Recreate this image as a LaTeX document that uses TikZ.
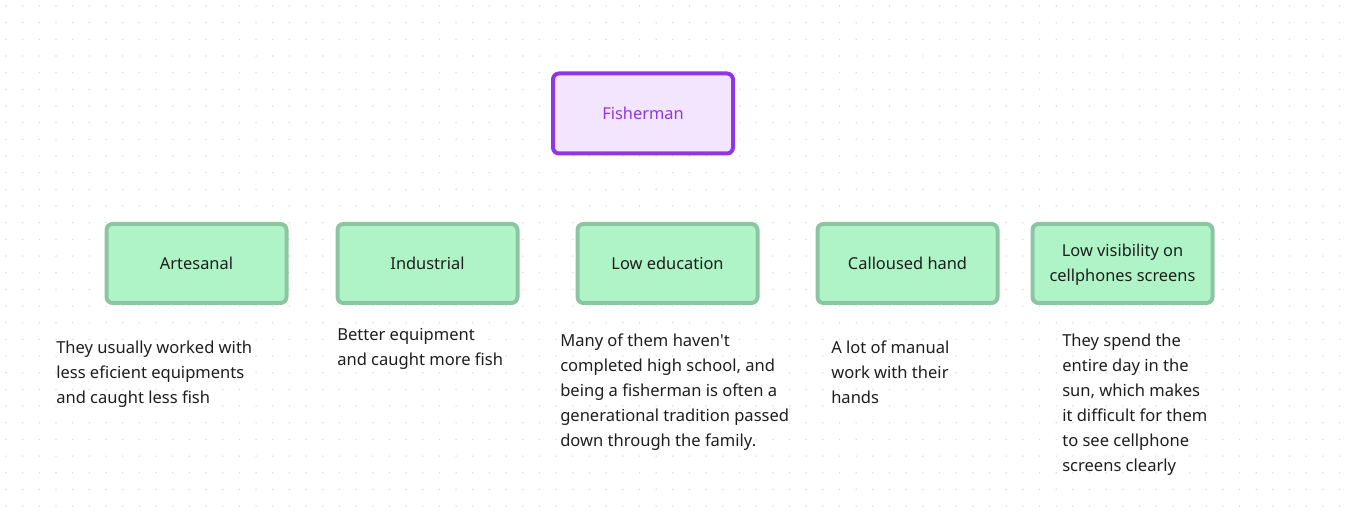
\documentclass[tikz,border=0pt]{standalone}
\usepackage{fontspec}
\setmainfont{Noto Sans}[Ligatures=TeXOff]
\definecolor{dotc}{HTML}{DDDDDD}
\definecolor{purpb}{HTML}{9036E8}
\definecolor{purpf}{HTML}{F3E5FE}
\definecolor{greenb}{HTML}{8CC6A0}
\definecolor{greenf}{HTML}{AFF4C7}
\definecolor{inkc}{HTML}{1E1E1E}
\tikzset{
  topbox/.style={draw=purpb, fill=purpf, line width=3pt, rounded corners=4.5pt,
    minimum width=180*0.75pt, minimum height=80*0.75pt, text=purpb, font=\fontsize{12.3}{15}\selectfont, inner sep=0pt},
  greenbox/.style={draw=greenb, fill=greenf, line width=3pt, rounded corners=4.5pt,
    minimum width=180*0.75pt, minimum height=79*0.75pt, text=inkc, align=center,
    font=\fontsize{12.3}{18.75}\selectfont, inner sep=0pt},
  note/.style={anchor=north west, align=left, inner sep=0pt, text=inkc,
    font=\fontsize{12.4}{18.75}\selectfont}
}
\begin{document}
\begin{tikzpicture}[x=0.75pt,y=-0.75pt]
\useasboundingbox (0,0) rectangle (1351,516);
\fill[white] (0,0) rectangle (1351,516);
\foreach \i in {0,...,80} {
  \foreach \j in {0,...,30} {
    \fill[dotc] ({6+\i*16.67},{6+\j*16.67}) circle (0.8);
  }
}
\node[topbox] (fish) at (643,113.5) {Fisherman};
\node[greenbox] (art) at (196.5,263.5) {Artesanal};
\node[greenbox] (ind) at (427.5,263.5) {Industrial};
\node[greenbox] (edu) at (667.5,263.5) {Low education};
\node[greenbox] (cal) at (907.5,263.5) {Calloused hand};
\node[greenbox] (vis) at (1122.5,263.5) {\raisebox{-1.2pt}{\begin{tabular}{@{}c@{}}Low visibility on\\cellphones screens\end{tabular}}};
\node[note] (tart) at (56,341) {They usually worked with\\less eficient equipments\\and caught less fish};
\node[note] (tind) at (337,328) {Better equipment\\and caught more fish};
\node[note] (tedu) at (560,334) {Many of them haven't\\completed high school, and\\being a fisherman is often a\\generational tradition passed\\down through the family.};
\node[note] (tcal) at (831,341) {A lot of manual\\work with their\\hands};
\node[note] (tvis) at (1062,334) {They spend the\\entire day in the\\sun, which makes\\it difficult for them\\to see cellphone\\screens clearly};
\end{tikzpicture}
\end{document}
